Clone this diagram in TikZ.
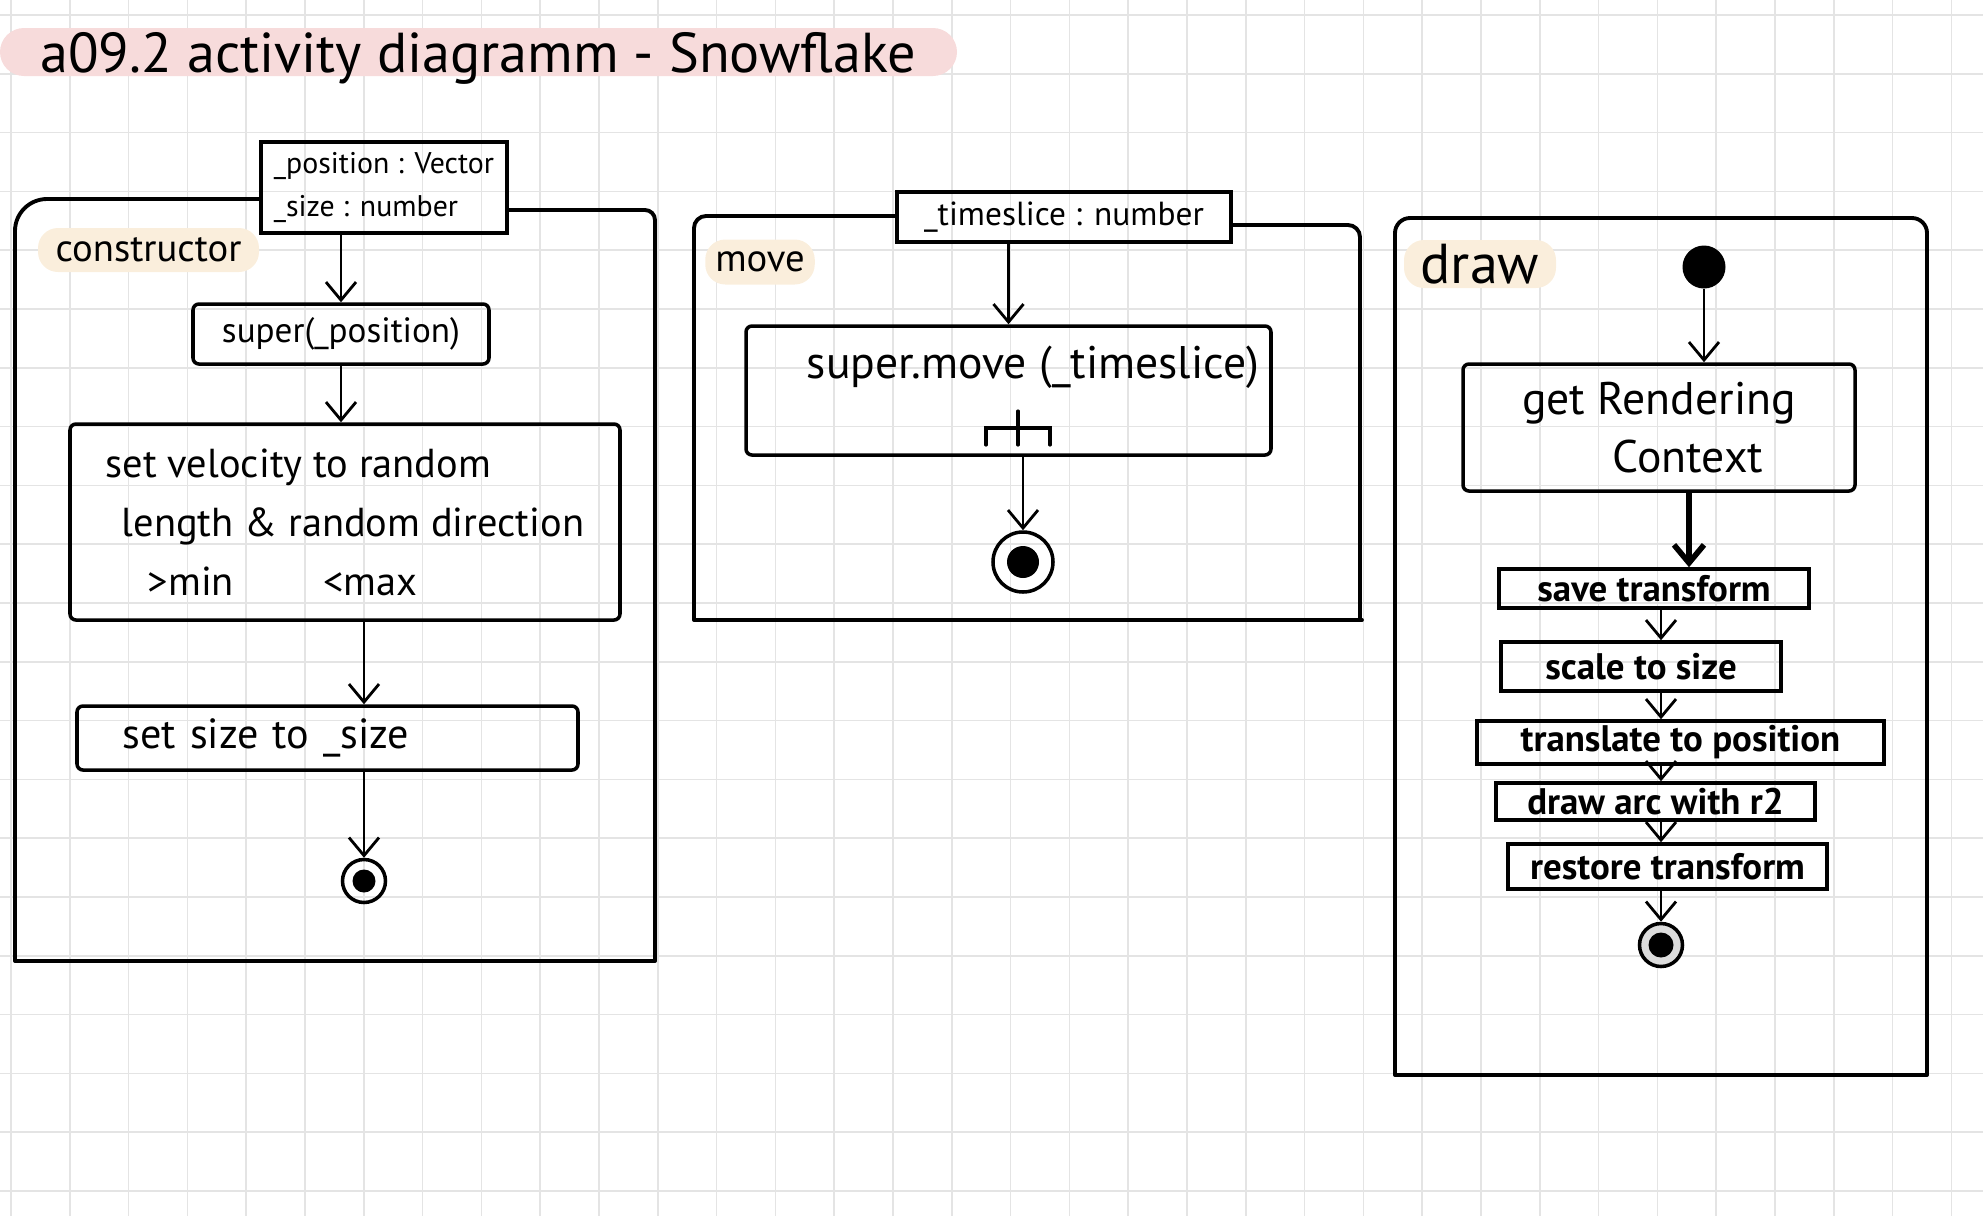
\documentclass[tikz,border=0pt]{standalone}
\usepackage{fontspec}
\setmainfont{PT Sans}
\usetikzlibrary{arrows.meta}
\definecolor{gridgray}{RGB}{228,228,228}
\definecolor{titlepink}{RGB}{247,219,219}
\definecolor{tagcream}{RGB}{250,238,220}
\definecolor{endgray}{RGB}{220,220,220}
\tikzset{
	gridline/.style={draw=gridgray,line width=0.5pt},
	frame/.style={line width=1.1pt,line cap=round,line join=round},
	actbox/.style={draw,line width=1pt,inner sep=0.5mm,rounded corners=0.6mm},
	smallbox/.style={draw,line width=1pt,inner xsep=0.5mm,inner ysep=0.2mm,font=\fontsize{10.5}{12}\selectfont\bfseries},
	parambox/.style={draw,line width=1pt,inner sep=0.6mm,align=left},
	tag/.style={fill=tagcream,rounded corners=2mm,inner xsep=1mm,inner ysep=0.2mm},
	flow/.style={line width=0.8pt,-{Straight Barb[length=1.8mm,width=3mm]}},
	rake/.style={line width=0.9pt,line cap=round},
	endnode/.style={circle,draw,line width=1pt,minimum size=#1,inner sep=0pt},
	initnode/.style={circle,fill,minimum size=4.3mm,inner sep=0pt}
}
\begin{document}
\begin{tikzpicture}[x=0.1mm,y=-0.1mm]
		\useasboundingbox (0,0) rectangle (1983,1216);
		\foreach \i in {0,...,33}
			\draw[gridline] ({11+58.8*\i},0) -- ({11+58.8*\i},1216);
		\foreach \j in {0,...,20}
			\draw[gridline] (0,{15+58.8*\j}) -- (1983,{15+58.8*\j});
		\fill[titlepink,rounded corners=2.4mm] (0,28) rectangle (957,76);
		\node[font=\fontsize{16}{19}\selectfont,anchor=base west] (title) at (28,72) {a09.2 activity diagramm - Snowflake};

		\node[parambox,minimum width=24.6mm,minimum height=9.1mm,font=\fontsize{8.5}{12.2}\selectfont] (pc) at (384,187.5) {\_position : Vector\\\_size : number};
		\node[tag,minimum width=22.1mm,minimum height=4.4mm,font=\fontsize{11}{13}\selectfont] (ctag) at (148.5,250) {constructor};
		\node[actbox,minimum width=29.6mm,minimum height=6mm,font=\fontsize{10}{12}\selectfont] (sup) at (341,334) {super(\_position)};
		\node[actbox,minimum width=55mm,minimum height=19.6mm,font=\fontsize{11.5}{16.8}\selectfont,align=left] (vel) at (345,522) {set velocity to random\\\hspace*{1.6mm}length \& random direction\\\hspace*{4.2mm}>min\hspace{8.9mm}<max};
		\node[actbox,minimum width=50.1mm,minimum height=6.4mm,text width=49mm,align=left,font=\fontsize{12}{14}\selectfont] (ssz) at (327.5,738) {\hspace*{4mm}set size to \_size};
		\node[endnode=4.3mm] (endA) at (364,881) {};
		\fill (endA) circle (1.15mm);
		\draw[frame,rounded corners=3.2mm] (pc.west |- 0,199) -- (15,199) -- (15,500);
		\draw[frame] (15,500) -- (15,961) -- (655,961) -- (655,400);
		\draw[frame,rounded corners=1mm] (655,400) -- (655,210) -- (pc.east |- 0,210);
		\draw[flow] (pc.south -| sup) -- (sup);
		\draw[flow] (sup) -- (sup |- vel.north);
		\draw[flow] (vel.south -| endA) -- (ssz.north -| endA);
		\draw[flow] (ssz.south -| endA) -- (endA);

		\node[parambox,minimum width=33.4mm,minimum height=5mm,font=\fontsize{9.5}{11}\selectfont] (pm) at (1064,217) {\_timeslice : number};
		\node[tag,minimum height=4.5mm,font=\fontsize{11}{13}\selectfont] (mtag) at (760,262) {move};
		\node[actbox,minimum width=52.5mm,minimum height=12.9mm] (smove) at (1008.5,390.5) {};
		\node[font=\fontsize{13}{15}\selectfont] (smovelbl) at (1033,367) {super.move (\_timeslice)};
		\coordinate (rk) at (1018,428);
		\draw[rake] ([xshift=-3.2mm,yshift=-1.7mm]rk) |- ([xshift=3.2mm]rk) -- ([xshift=3.2mm,yshift=-1.7mm]rk);
		\draw[rake] ([yshift=1.7mm]rk) -- ([yshift=-1.7mm]rk);
		\node[endnode=6mm] (endB) at (1023,562) {};
		\fill (endB) circle (1.6mm);
		\draw[frame,rounded corners=1.2mm] (pm.west |- 0,216) -- (694,216) -- (694,400);
		\draw[frame] (694,400) -- (694,620) -- (1362,620);
		\draw[frame] (1360,620) -- (1360,400);
		\draw[frame,rounded corners=1.2mm] (1360,400) -- (1360,225) -- (pm.east |- 0,225);
		\draw[flow] (pm.south -| smove) -- (smove);
		\draw[flow] (smove.south -| endB) -- (endB);

		\node[tag,minimum width=15.2mm,minimum height=4.8mm,font=\fontsize{16}{18}\selectfont] (dtag) at (1480,264) {draw};
		\node[initnode] (init) at (1704,267) {};
		\node[actbox,minimum width=39.2mm,minimum height=12.7mm,align=center,font=\fontsize{13}{16.5}\selectfont] (grc) at (1659,427.5) {get Rendering\\\hspace*{5.8mm}Context};
		\node[smallbox,minimum width=31mm,minimum height=3.9mm] (save) at (1654,588.5) {save transform};
		\node[smallbox,minimum width=28mm,minimum height=4.9mm] (scl) at (1641,666.5) {scale to size};
		\node[smallbox,minimum width=40.7mm,minimum height=4.3mm] (trn) at (1680.5,742.5) {translate to position};
		\node[smallbox,minimum width=31.9mm,minimum height=3.7mm] (drawarc) at (1655.5,801.5) {draw arc with r2};
		\node[smallbox,minimum width=31.9mm,minimum height=4.5mm] (rst) at (1667.5,866.5) {restore transform};
		\node[endnode=4.3mm,fill=endgray] (endC) at (1661,945) {};
		\fill (endC) circle (1.25mm);
		\draw[frame,rounded corners=1.5mm] (1395,500) -- (1395,218) -- (1927,218) -- (1927,500);
		\draw[frame] (1927,500) -- (1927,1075) -- (1395,1075) -- (1395,500);
		\coordinate (gout) at ([xshift=3mm]grc.south);
		\draw[flow] (init) -- (init |- grc.north);
		\draw[flow,line width=1.6pt] (gout) -- (gout |- save.north);
		\foreach \a/\b in {save/scl,scl/trn,trn/drawarc,drawarc/rst}
			\draw[flow] (\a.south -| endC) -- (\b.north -| endC);
		\draw[flow] (rst.south -| endC) -- (endC);
\end{tikzpicture}
\end{document}
